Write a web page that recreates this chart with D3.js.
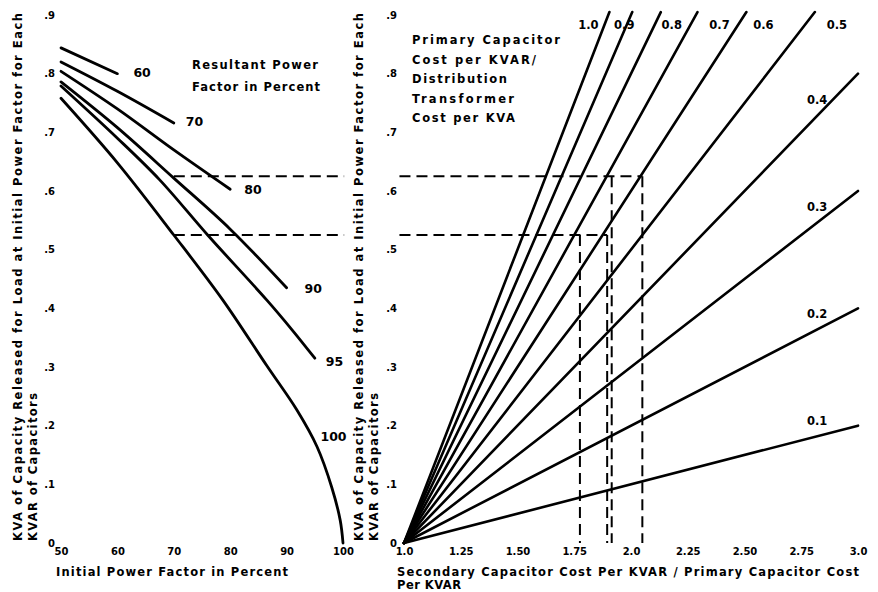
<!DOCTYPE html>
<html>
<head>
<meta charset="utf-8">
<script src="https://cdn.jsdelivr.net/npm/d3@7/dist/d3.min.js"></script>
<style>
  html, body { margin: 0; padding: 0; background: #fff; }
  svg { display: block; }
  text { font-family: "DejaVu Sans", sans-serif; font-weight: bold; fill: #000; }
</style>
</head>
<body>
<svg id="chart" width="878" height="592"></svg>
<script>
// ---------------- DATA ----------------
// Left panel: initial power factor (%) vs KVA released per KVAR, one curve per resultant PF
const resultantPF = ["60", "70", "80", "90", "95", "100"];
const curve60  = [[50, 0.844], [60, 0.800]];
const curve70  = [[50, 0.820], [60, 0.770], [70, 0.716]];
const curve80  = [[50, 0.804], [60, 0.740], [70, 0.670], [80, 0.603]];
const curve90  = [[50, 0.786], [60, 0.708], [70, 0.622], [80, 0.535], [90, 0.435]];
const curve95  = [[50, 0.779], [60, 0.690], [67.5, 0.619], [76, 0.525], [86.5, 0.414], [91, 0.363], [95, 0.315]];
const curve100 = [[50, 0.758], [60, 0.648], [70, 0.525], [78.7, 0.414], [86.5, 0.302], [91.8, 0.227], [95.4, 0.164], [98, 0.095], [99.5, 0.039], [100, 0]];
const leftCurves = [curve60, curve70, curve80, curve90, curve95, curve100];

const leftXTicks = [50, 60, 70, 80, 90, 100];
const yTicks = [0, 0.1, 0.2, 0.3, 0.4, 0.5, 0.6, 0.7, 0.8, 0.9];
const yTickLabels = ["0", ".1", ".2", ".3", ".4", ".5", ".6", ".7", ".8", ".9"];

// Right panel: cost ratio lines through (1.0, 0)
const costRatios = [1.0, 0.9, 0.8, 0.7, 0.6, 0.5, 0.4, 0.3, 0.2, 0.1];
const costRatioLabels = ["1.0", "0.9", "0.8", "0.7", "0.6", "0.5", "0.4", "0.3", "0.2", "0.1"];
const rightXTicks = [1.0, 1.25, 1.5, 1.75, 2.0, 2.25, 2.5, 2.75, 3.0];
const rightXTickLabels = ["1.0", "1.25", "1.50", "1.75", "2.0", "2.25", "2.50", "2.75", "3.0"];

// Example (dashed) construction lines
const guideLevels = [0.625, 0.525];          // KVA per KVAR
const guideStartPF = [70, 70];               // initial PF where they start (left panel)
const guideVerticals = [[1.915, 2.05], [1.775, 1.895]]; // x positions of the drop lines

// ---------------- SCALES ----------------
const svg = d3.select("#chart");
const xL = d3.scaleLinear().domain([50, 100]).range([61, 343]);
const xR = d3.scaleLinear().domain([1, 3]).range([404, 858]);
const y  = d3.scaleLinear().domain([0, 0.9]).range([543, 15]);

// ---------------- LEFT PANEL ----------------
const line = d3.line().x(d => xL(d[0])).y(d => y(d[1])).curve(d3.curveCatmullRom.alpha(0.5));
svg.append("g").selectAll("path").data(leftCurves).join("path")
  .attr("d", line).attr("fill", "none").attr("stroke", "#000")
  .attr("stroke-width", 2.8).attr("stroke-linecap", "round");

// curve labels
const labelOffsets = [[16, 0], [12, 0], [14, 1], [18, 2], [11, 4], [-13, 0]];
svg.append("g").selectAll("text").data(leftCurves).join("text")
  .attr("x", (d, i) => {
    const e = d[d.length - 1];
    if (i === 5) return xL(96.0);
    return xL(e[0]) + labelOffsets[i][0];
  })
  .attr("y", (d, i) => {
    const e = d[d.length - 1];
    if (i === 5) return y(0.18);
    return y(e[1]) + labelOffsets[i][1];
  })
  .attr("dominant-baseline", "middle")
  .attr("font-size", 12.5)
  .text((d, i) => resultantPF[i]);

// axis ticks
const axL = d3.axisBottom(xL).tickValues(leftXTicks).tickSize(0).tickPadding(0);
const gxL = svg.append("g").attr("transform", "translate(0,548)").call(axL);
gxL.select(".domain").remove();
gxL.selectAll("text").attr("font-size", 10).attr("font-family", "DejaVu Sans").attr("font-weight", "bold");

const ayL = d3.axisLeft(y).tickValues(yTicks).tickFormat((d, i) => yTickLabels[i]).tickSize(0).tickPadding(0);
const gyL = svg.append("g").attr("transform", "translate(55,0)").call(ayL);
gyL.select(".domain").remove();
gyL.selectAll("text").attr("font-size", 10).attr("font-family", "DejaVu Sans").attr("font-weight", "bold");

// titles
svg.append("text").attr("x", 56).attr("y", 576).attr("font-size", 11.5)
  .attr("textLength", 232).text("Initial Power Factor in Percent");
svg.append("text").attr("x", 192).attr("y", 69).attr("font-size", 11.5)
  .attr("textLength", 126).text("Resultant Power");
svg.append("text").attr("x", 192).attr("y", 91).attr("font-size", 11.5)
  .attr("textLength", 128).text("Factor in Percent");

function yTitle(x1, x2) {
  svg.append("text").attr("transform", `translate(${x1},541) rotate(-90)`)
    .attr("font-size", 11.5).attr("textLength", 528)
    .text("KVA of Capacity Released for Load at Initial Power Factor for Each");
  svg.append("text").attr("transform", `translate(${x2},541) rotate(-90)`)
    .attr("font-size", 11.5).attr("textLength", 148)
    .text("KVAR of Capacitors");
}
yTitle(22, 37);
yTitle(363, 378);

// ---------------- RIGHT PANEL ----------------
const topVal = 0.905;
const rLines = costRatios.map(k => {
  const xEnd = Math.min(3, 1 + topVal / k);
  return [[1, 0], [xEnd, k * (xEnd - 1)]];
});
svg.append("g").selectAll("line").data(rLines).join("line")
  .attr("x1", d => xR(d[0][0])).attr("y1", d => y(d[0][1]))
  .attr("x2", d => xR(d[1][0])).attr("y2", d => y(d[1][1]))
  .attr("stroke", "#000").attr("stroke-width", 2.6).attr("stroke-linecap", "round");

const topDx = [-21, -8, 11, 22, 17, 22];
svg.append("g").selectAll("text").data(rLines).join("text")
  .attr("x", (d, i) => i < 6 ? xR(d[1][0]) + topDx[i] : xR(2.82))
  .attr("y", (d, i) => i < 6 ? 25 : y(costRatios[i] * 1.82) - 15)
  .attr("text-anchor", "middle").attr("dominant-baseline", "middle")
  .attr("font-size", 11.5).text((d, i) => costRatioLabels[i]);

const axR = d3.axisBottom(xR).tickValues(rightXTicks).tickFormat((d, i) => rightXTickLabels[i]).tickSize(0).tickPadding(0);
const gxR = svg.append("g").attr("transform", "translate(0,548)").call(axR);
gxR.select(".domain").remove();
gxR.selectAll("text").attr("font-size", 10).attr("font-family", "DejaVu Sans").attr("font-weight", "bold");

const ayR = d3.axisLeft(y).tickValues(yTicks).tickFormat((d, i) => yTickLabels[i]).tickSize(0).tickPadding(0);
const gyR = svg.append("g").attr("transform", "translate(397,0)").call(ayR);
gyR.select(".domain").remove();
gyR.selectAll("text").attr("font-size", 10).attr("font-family", "DejaVu Sans").attr("font-weight", "bold");

svg.append("text").attr("x", 397).attr("y", 576).attr("font-size", 11.5)
  .attr("textLength", 462).text("Secondary Capacitor Cost Per KVAR / Primary Capacitor Cost");
svg.append("text").attr("x", 397).attr("y", 589).attr("font-size", 11.5)
  .attr("textLength", 64).text("Per KVAR");

const rTitle = ["Primary Capacitor", "Cost per KVAR/", "Distribution", "Transformer", "Cost per KVA"];
const rTitleLen = [148, 124, 95, 102, 103];
svg.append("g").selectAll("text").data(rTitle).join("text")
  .attr("x", 412).attr("y", (d, i) => 44 + i * 19.5)
  .attr("font-size", 11.5).attr("textLength", (d, i) => rTitleLen[i]).text(d => d);

// ---------------- DASHED GUIDES ----------------
const dash = "11,6";
const gG = svg.append("g").attr("stroke", "#000").attr("stroke-width", 2).attr("stroke-dasharray", dash).attr("fill", "none");
guideLevels.forEach((v, i) => {
  // left panel horizontal
  gG.append("line").attr("x1", xL(guideStartPF[i])).attr("x2", xL(100.2))
    .attr("y1", y(v)).attr("y2", y(v));
  // right panel horizontal
  const xs = guideVerticals[i];
  gG.append("line").attr("x1", xR(0.98)).attr("x2", xR(d3.max(xs)))
    .attr("y1", y(v)).attr("y2", y(v));
  xs.forEach(xv => {
    gG.append("line").attr("x1", xR(xv)).attr("x2", xR(xv))
      .attr("y1", y(v)).attr("y2", y(0));
  });
});
</script>
</body>
</html>
